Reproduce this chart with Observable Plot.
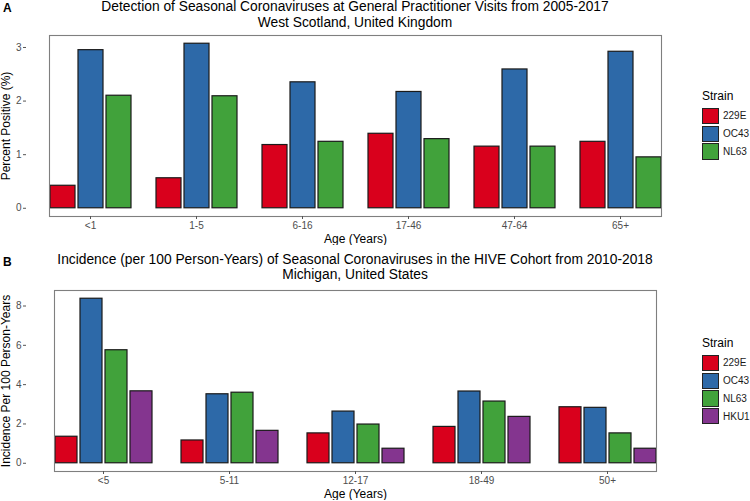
<!DOCTYPE html>
<html><head><meta charset="utf-8">
<script src="https://cdn.jsdelivr.net/npm/d3@7"></script>
<script src="https://cdn.jsdelivr.net/npm/@observablehq/plot@0.6"></script>
<style>
body{margin:0;background:#fff;font-family:"Liberation Sans",Arial,sans-serif;}
#fig{position:relative;width:750px;height:501px;overflow:hidden;background:#fff}
.tag{position:absolute;left:3px;font-weight:bold;font-size:12px;line-height:14px;color:#000}
.title{position:absolute;left:26px;width:658px;text-align:center;font-size:13.8px;line-height:15.6px;color:#000}
.chart{position:absolute;left:0;width:690px;height:215px}
.chart svg{position:absolute;left:0;top:0}
.legend{position:absolute;left:702px;font-size:10px;color:#1a1a1a}
.legend .lt{font-size:12px;line-height:14px;margin-bottom:4px;color:#000}
.key{display:flex;align-items:center;height:17.8px}
.sw{width:17px;height:16.3px;border:1.3px solid #222;box-sizing:border-box;margin-right:4px}
</style>
</head><body>
<div id="fig">
  <div class="tag" style="top:1px">A</div>
  <div class="title" style="top:-1px"><div>Detection of Seasonal Coronaviruses at General Practitioner Visits from 2005-2017</div><div>West Scotland, United Kingdom</div></div>
  <div class="chart" id="chartA" style="top:30px"></div>
  <div class="legend" id="legA" style="top:89px"></div>

  <div class="tag" style="top:255px">B</div>
  <div class="title" style="top:251.8px"><div>Incidence (per 100 Person-Years) of Seasonal Coronaviruses in the HIVE Cohort from 2010-2018</div><div>Michigan, United States</div></div>
  <div class="chart" id="chartB" style="top:285px"></div>
  <div class="legend" id="legB" style="top:336px"></div>
</div>
<script>
// ---- Panel A data ----
const agesA = ["<1", "1-5", "6-16", "17-46", "47-64", "65+"];
const strainsA = ["229E", "OC43", "NL63"];
const a229E = [0.42, 0.56, 1.18, 1.39, 1.15, 1.24];
const aOC43 = [2.95, 3.07, 2.35, 2.17, 2.59, 2.92];
const aNL63 = [2.10, 2.09, 1.24, 1.29, 1.15, 0.95];
const yTicksA = [0, 1, 2, 3];

// ---- Panel B data ----
const agesB = ["<5", "5-11", "12-17", "18-49", "50+"];
const strainsB = ["229E", "OC43", "NL63", "HKU1"];
const b229E = [1.35, 1.16, 1.52, 1.85, 2.85];
const bOC43 = [8.37, 3.51, 2.63, 3.65, 2.82];
const bNL63 = [5.75, 3.59, 1.97, 3.14, 1.52];
const bHKU1 = [3.66, 1.65, 0.74, 2.36, 0.74];
const yTicksB = [0, 2, 4, 6, 8];

const strainColors = {"229E": "#D9001C", "OC43": "#2D69A8", "NL63": "#41A23B", "HKU1": "#84358F"};

function toRows(ages, strains, series) {
  const rows = [];
  ages.forEach((age, i) => strains.forEach((s, j) => rows.push({age, strain: s, value: series[j][i]})));
  return rows;
}
const rowsA = toRows(agesA, strainsA, [a229E, aOC43, aNL63]);
const rowsB = toRows(agesB, strainsB, [b229E, bOC43, bNL63, bHKU1]);

function expandDomain(vals) {
  const max = d3.max(vals);
  return [-0.05 * max, max * 1.05];
}

const common = {
  width: 690, height: 215,
  marginTop: 5, marginLeft: 26, marginRight: 6, marginBottom: 29,
  style: {fontFamily: "Liberation Sans, Arial, sans-serif", fontSize: "10px", background: "transparent", color: "#000"}
};

function chart(el, rows, ages, strains, yTicks, yLabel) {
  const yDomain = expandDomain(rows.map(d => d.value));
  const bars = Plot.plot({
    ...common,
    fx: {domain: ages, paddingInner: 0.225, paddingOuter: 0.212},
    x: {domain: strains, axis: null, paddingInner: 0.12, paddingOuter: 0},
    y: {domain: yDomain, axis: null},
    color: {domain: strains, range: strains.map(s => strainColors[s])},
    marks: [
      Plot.barY(rows, {fx: "age", x: "strain", y: "value", fill: "strain", stroke: "#1a1a1a", strokeWidth: 1.2}),
      Plot.frame({facet: "super", stroke: "#7f7f7f", strokeWidth: 1.1}),
      Plot.axisFx({anchor: "bottom", tickSize: 3, tickPadding: 2, stroke: "#555", fill: "#4d4d4d", fontSize: 10, label: null}),
      Plot.axisFx({anchor: "bottom", ticks: [], tickSize: 0, label: "Age (Years)", labelAnchor: "center", labelArrow: "none", fill: "#000", fontSize: 12})
    ]
  });
  const axis = Plot.plot({
    ...common,
    x: {axis: null},
    y: {domain: yDomain},
    marks: [
      Plot.axisY({ticks: yTicks, tickFormat: d3.format("d"), tickSize: 3, tickPadding: 2, stroke: "#555", fill: "#4d4d4d", fontSize: 10, label: null}),
      Plot.axisY({ticks: [], label: yLabel, labelAnchor: "center", labelArrow: "none", labelOffset: 25, fill: "#000", fontSize: 12})
    ]
  });
  const host = document.querySelector(el);
  host.appendChild(bars);
  host.appendChild(axis);
}

chart("#chartA", rowsA, agesA, strainsA, yTicksA, "Percent Positive (%)");
chart("#chartB", rowsB, agesB, strainsB, yTicksB, "Incidence Per 100 Person-Years");

function legend(el, strains) {
  const root = d3.select(el);
  root.append("div").attr("class", "lt").text("Strain");
  const k = root.selectAll("div.key").data(strains).join("div").attr("class", "key");
  k.append("div").attr("class", "sw").style("background", d => strainColors[d]);
  k.append("span").text(d => d);
}
legend("#legA", strainsA);
legend("#legB", strainsB);
</script>
</body></html>
